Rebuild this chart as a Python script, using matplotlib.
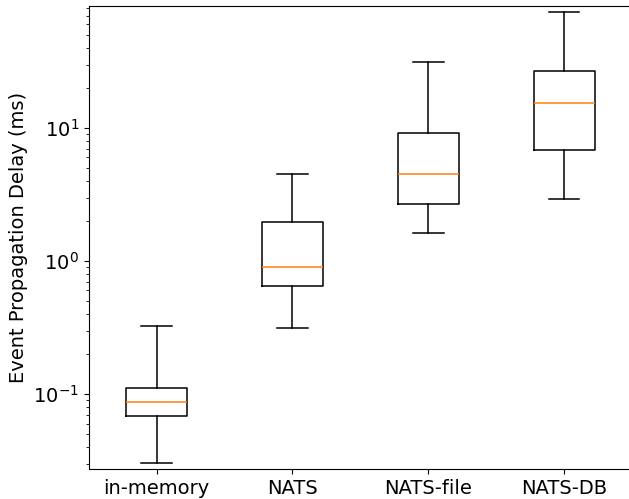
import matplotlib
matplotlib.use("Agg")
import matplotlib.pyplot as plt

# values (ms)
labels = ["in-memory", "NATS", "NATS-file", "NATS-DB"]
whislo = [0.0303, 0.313, 1.62, 2.93]
q1 = [0.0687, 0.652, 2.70, 6.80]
med = [0.0867, 0.897, 4.53, 15.4]
q3 = [0.111, 1.95, 9.12, 26.7]
whishi = [0.327, 4.53, 31.5, 74.9]

stats = []
for lab, lo, a, m, b, hi in zip(labels, whislo, q1, med, q3, whishi):
    stats.append({"label": lab, "whislo": lo, "q1": a, "med": m,
                  "q3": b, "whishi": hi, "fliers": []})

W, H = 629, 499
dpi = 100
fig = plt.figure(figsize=(W / dpi, H / dpi), dpi=dpi)
# axes runs a little past the right edge, as in the cropped original
ax = fig.add_axes([88.7 / W, 1 - 469 / H, 543.3 / W, 463 / H])

lw = 1.1
ax.bxp(stats, showfliers=False,
       boxprops=dict(linewidth=lw), whiskerprops=dict(linewidth=lw),
       capprops=dict(linewidth=lw), medianprops=dict(linewidth=lw))
ax.set_yscale("log")
ax.set_ylim(0.0273, 82.6)
ax.set_xlim(0.5, 4.5)
ax.set_ylabel("Event Propagation Delay (ms)", fontsize=14)
ax.tick_params(labelsize=14)

fig.savefig("out.png", dpi=dpi)
